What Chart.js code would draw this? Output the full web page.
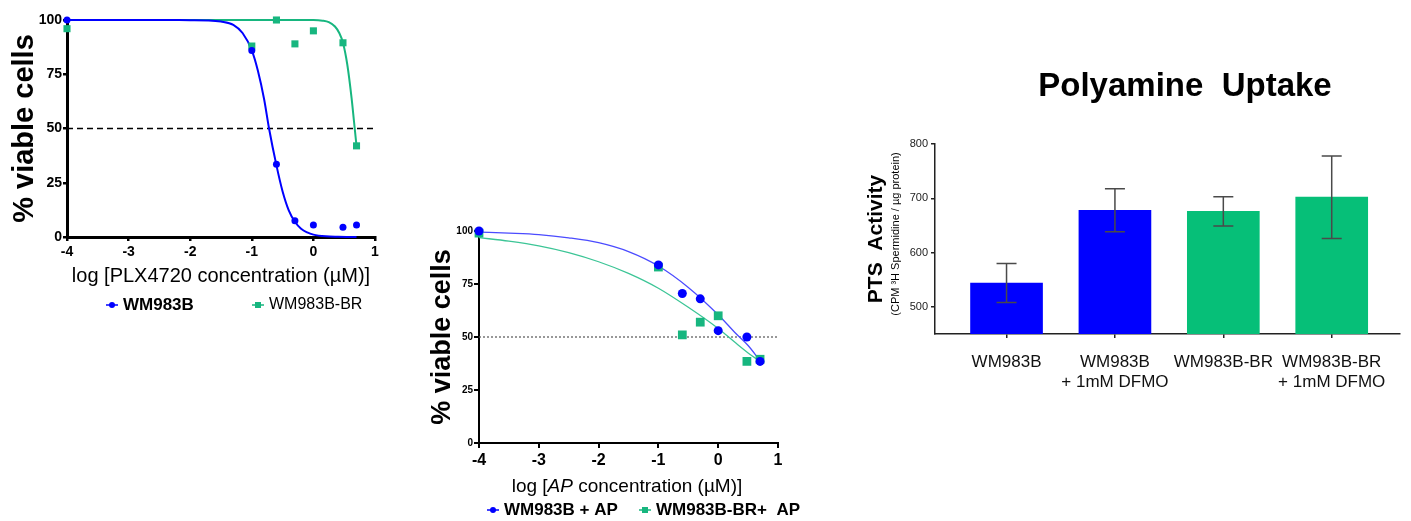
<!DOCTYPE html>
<html>
<head>
<meta charset="utf-8">
<script src="https://cdn.jsdelivr.net/npm/chart.js@4.4.0/dist/chart.umd.min.js"></script>
<style>
  html, body { margin: 0; padding: 0; background: #fff; }
  body { width: 1411px; height: 521px; position: relative; overflow: hidden; }
  canvas { position: absolute; left: 0; top: 0; }
</style>
</head>
<body>
<canvas id="plxChart" width="1411" height="521"></canvas>
<canvas id="apChart" width="1411" height="521"></canvas>
<canvas id="ptsChart" width="1411" height="521"></canvas>
<script>
// log10 concentrations used in both dose-response panels
const logConc = [-4, -1, -0.6, -0.3, 0, 0.48, 0.7];

// panel 1: PLX4720
const plxParental = [100, 86, 33.5, 7.5, 5.5, 4.5, 5.5];
const plxResistant = [96, 88, 100, 89, 95, 89.5, 42];
const plxParentalFitX = [-4, -2.5, -2, -1.7, -1.5, -1.3, -1.15, -1, -0.9, -0.8, -0.72, -0.6, -0.5, -0.4, -0.3, -0.2, -0.1, 0, 0.2, 0.4, 0.7];
const plxParentalFitY = [100, 100, 99.9, 99.8, 99.3, 97.8, 94, 86, 76.5, 63.5, 50, 33, 21, 12.3, 7, 3.8, 2.1, 1.1, 0.3, 0.1, 0];
const plxResistantFitX = [-4, -1, 0, 0.15, 0.25, 0.35, 0.42, 0.48, 0.55, 0.62, 0.66, 0.7];
const plxResistantFitY = [100, 100, 100, 99.7, 99, 97, 94, 89.5, 79.5, 64, 53, 42];

// panel 2: AP
const apParental = [100, 84, 70.5, 68, 53, 50, 38.5];
const apResistant = [99, 83, 51, 57, 60, 38.5, 39.5];
const apFitX = [-4, -3.5, -3, -2.5, -2, -1.5, -1, -0.5, 0, 0.3, 0.5, 0.7];
const apParentalFitY = [99.5, 99, 98.3, 96.8, 94.5, 90.3, 83.5, 73.4, 60.5, 51.5, 46, 38.8];
const apResistantFitY = [96.9, 95.2, 93, 89.8, 85.5, 80, 73, 64, 54, 47, 42.5, 38.5];

const halfLine = [50, 50];
const halfLineX = [-4, 1];
const doseTicksY = [0, 25, 50, 75, 100];

// panel 3: polyamine uptake
const groups = [['WM983B'], ['WM983B', '+ 1mM DFMO'], ['WM983B-BR'], ['WM983B-BR', '+ 1mM DFMO']];
const uptake = [544, 678, 676, 702];
const uptakeErr = [36, 39.5, 27, 76];
const uptakeTicks = [500, 600, 700, 800];

const SANS = "'Liberation Sans', Arial, Helvetica, sans-serif";
Chart.defaults.font.family = SANS;
Chart.defaults.color = '#000';

const BLUE = '#0000ff';
const GREEN = '#17b67f';
const BAR_GREEN = '#06bf78';

const toXY = (xs, ys) => xs.map((x, i) => ({ x: x, y: ys[i] }));

// text with mixed fonts (italic parts, rotated subtitles, panel title)
function textPlugin(items) {
  return {
    id: 'richText',
    afterDraw(chart) {
      const ctx = chart.ctx;
      items.forEach(item => {
        ctx.save();
        ctx.translate(item.x, item.y);
        if (item.rotate) ctx.rotate(item.rotate);
        ctx.textBaseline = 'middle';
        ctx.textAlign = 'left';
        ctx.fillStyle = item.color || '#000';
        const widths = item.parts.map(p => { ctx.font = p.font; return ctx.measureText(p.text).width; });
        let x = -widths.reduce((a, b) => a + b, 0) / 2;
        item.parts.forEach((p, i) => {
          ctx.font = p.font;
          ctx.fillText(p.text, x, 0);
          x += widths[i];
        });
        ctx.restore();
      });
    }
  };
}

// GraphPad-like legend: short line with the dataset's marker, then the label
function markerLegend(items) {
  return {
    id: 'markerLegend',
    afterDraw(chart) {
      const ctx = chart.ctx;
      items.forEach(it => {
        const ds = chart.data.datasets[it.ds];
        ctx.save();
        ctx.strokeStyle = ds.backgroundColor;
        ctx.fillStyle = ds.backgroundColor;
        ctx.lineWidth = 1.5;
        ctx.beginPath();
        ctx.moveTo(it.x - 6, it.y);
        ctx.lineTo(it.x + 6, it.y);
        ctx.stroke();
        if (ds.pointStyle === 'rect') {
          ctx.fillRect(it.x - 3, it.y - 3, 6, 6);
        } else {
          ctx.beginPath();
          ctx.arc(it.x, it.y, 3, 0, Math.PI * 2);
          ctx.fill();
        }
        ctx.fillStyle = '#000';
        ctx.font = it.font;
        ctx.textBaseline = 'middle';
        ctx.fillText(ds.label, it.x + 11, it.y);
        ctx.restore();
      });
    }
  };
}

function errorBars(values, errs) {
  return {
    id: 'errorBars',
    afterDatasetsDraw(chart) {
      const ctx = chart.ctx;
      const y = chart.scales.y;
      chart.getDatasetMeta(0).data.forEach((bar, i) => {
        const top = y.getPixelForValue(values[i] + errs[i]);
        const bot = y.getPixelForValue(values[i] - errs[i]);
        ctx.save();
        ctx.strokeStyle = '#4a4a4a';
        ctx.lineWidth = 1.5;
        ctx.beginPath();
        ctx.moveTo(bar.x, top); ctx.lineTo(bar.x, bot);
        ctx.moveTo(bar.x - 10, top); ctx.lineTo(bar.x + 10, top);
        ctx.moveTo(bar.x - 10, bot); ctx.lineTo(bar.x + 10, bot);
        ctx.stroke();
        ctx.restore();
      });
    }
  };
}

const fixY = (w) => (s) => { s.width = w; s.paddingTop = 0; s.paddingBottom = 0; };
const fixX = (h) => (s) => { s.height = h; s.paddingLeft = 0; s.paddingRight = 0; };
const tickList = (vals) => (s) => { s.ticks = vals.map(v => ({ value: v })); };

// ---------- panel 1 ----------
new Chart(document.getElementById('plxChart'), {
  type: 'scatter',
  data: {
    datasets: [
      { label: 'WM983B', data: toXY(logConc, plxParental), backgroundColor: BLUE, borderColor: BLUE,
        pointStyle: 'circle', pointRadius: 3.5, borderWidth: 0, clip: false },
      { label: 'WM983B-BR', data: toXY(logConc, plxResistant), backgroundColor: GREEN, borderColor: GREEN,
        pointStyle: 'rect', pointRadius: 5, borderWidth: 0, clip: false },
      { data: toXY(plxParentalFitX, plxParentalFitY), showLine: true, pointRadius: 0, borderColor: BLUE,
        borderWidth: 2, cubicInterpolationMode: 'monotone', clip: false },
      { data: toXY(plxResistantFitX, plxResistantFitY), showLine: true, pointRadius: 0, borderColor: GREEN,
        borderWidth: 2, cubicInterpolationMode: 'monotone', clip: false },
      { data: toXY(halfLineX, halfLine), showLine: true, pointRadius: 0, borderColor: '#000',
        borderWidth: 1.5, borderDash: [6, 4] }
    ]
  },
  options: {
    responsive: false, animation: false,
    layout: { padding: { left: 0, right: 1036, top: 20, bottom: 232 } },
    plugins: { legend: { display: false }, tooltip: { enabled: false } },
    scales: {
      x: {
        type: 'linear', min: -4, max: 1,
        ticks: { stepSize: 1, font: { size: 14, weight: 'bold' }, padding: 3, color: '#000' },
        grid: { drawOnChartArea: false, tickLength: 4, color: '#000', lineWidth: 2.5 },
        border: { color: '#000', width: 3 },
        title: { display: true, text: 'log [PLX4720 concentration (µM)]', font: { size: 20 }, padding: { top: 0, bottom: 1 } },
        afterFit: fixX(52)
      },
      y: {
        min: 0, max: 100,
        afterBuildTicks: tickList(doseTicksY),
        ticks: { font: { size: 14, weight: 'bold' }, padding: 1, color: '#000' },
        grid: { drawOnChartArea: false, tickLength: 4, color: '#000', lineWidth: 2.5 },
        border: { color: '#000', width: 3 },
        title: { display: true, text: '% viable cells', font: { size: 29, weight: 'bold' }, padding: { top: 8, bottom: 0 } },
        afterFit: fixY(67)
      }
    }
  },
  plugins: [markerLegend([
    { ds: 0, x: 112, y: 305, font: 'bold 17px ' + SANS },
    { ds: 1, x: 258, y: 305, font: '16px ' + SANS }
  ])]
});

// ---------- panel 2 ----------
new Chart(document.getElementById('apChart'), {
  type: 'scatter',
  data: {
    datasets: [
      { label: 'WM983B + AP', data: toXY(logConc, apParental), backgroundColor: BLUE, borderColor: BLUE,
        pointStyle: 'circle', pointRadius: 4.5, borderWidth: 0, clip: false },
      { label: 'WM983B-BR+  AP', data: toXY(logConc, apResistant), backgroundColor: GREEN, borderColor: GREEN,
        pointStyle: 'rect', pointRadius: 6.2, borderWidth: 0, clip: false },
      { data: toXY(apFitX, apParentalFitY), showLine: true, pointRadius: 0, borderColor: '#4b4bff',
        borderWidth: 1.3, cubicInterpolationMode: 'monotone', clip: false },
      { data: toXY(apFitX, apResistantFitY), showLine: true, pointRadius: 0, borderColor: '#3cc596',
        borderWidth: 1.3, cubicInterpolationMode: 'monotone', clip: false },
      { data: toXY(halfLineX, halfLine), showLine: true, pointRadius: 0, borderColor: '#555',
        borderWidth: 1.2, borderDash: [2, 2] }
    ]
  },
  options: {
    responsive: false, animation: false,
    layout: { padding: { left: 420, right: 633, top: 231, bottom: 38 } },
    plugins: { legend: { display: false }, tooltip: { enabled: false } },
    scales: {
      x: {
        type: 'linear', min: -4, max: 1,
        ticks: { stepSize: 1, font: { size: 16, weight: 'bold' }, padding: 3, color: '#000' },
        grid: { drawOnChartArea: false, tickLength: 5, color: '#000', lineWidth: 2 },
        border: { color: '#000', width: 2 },
        afterFit: fixX(40)
      },
      y: {
        min: 0, max: 100,
        afterBuildTicks: tickList(doseTicksY),
        ticks: { font: { size: 10, weight: 'bold' }, padding: 1, color: '#000' },
        grid: { drawOnChartArea: false, tickLength: 5, color: '#000', lineWidth: 2 },
        border: { color: '#000', width: 2 },
        title: { display: true, text: '% viable cells', font: { size: 27, weight: 'bold' }, padding: { top: 6, bottom: 0 } },
        afterFit: fixY(59)
      }
    }
  },
  plugins: [
    textPlugin([
      { x: 627, y: 487, parts: [
        { text: 'log [', font: '19px ' + SANS },
        { text: 'AP', font: 'italic 19px ' + SANS },
        { text: ' concentration (µM)]', font: '19px ' + SANS }
      ] }
    ]),
    markerLegend([
      { ds: 0, x: 493, y: 510, font: 'bold 17px ' + SANS },
      { ds: 1, x: 645, y: 510, font: 'bold 17px ' + SANS }
    ])
  ]
});

// ---------- panel 3 ----------
new Chart(document.getElementById('ptsChart'), {
  type: 'bar',
  data: {
    datasets: [{
      data: groups.map((g, i) => ({ x: i, y: uptake[i] })),
      backgroundColor: [BLUE, BLUE, BAR_GREEN, BAR_GREEN],
      barThickness: 72,
      borderWidth: 0
    }]
  },
  options: {
    responsive: false, animation: false,
    layout: { padding: { left: 860, right: 11, top: 144, bottom: 127 } },
    plugins: { legend: { display: false }, tooltip: { enabled: false } },
    scales: {
      x: {
        type: 'linear', min: -0.66, max: 3.63, offset: false,
        afterBuildTicks: tickList(groups.map((g, i) => i)),
        ticks: { callback: (v, i) => groups[i], font: { size: 17, lineHeight: 20 / 17 }, padding: 14,
          maxRotation: 0, autoSkip: false, color: '#111' },
        grid: { offset: false, drawOnChartArea: false, tickLength: 4, color: '#222', lineWidth: 1.5 },
        border: { color: '#222', width: 1.5 },
        afterFit: fixX(60)
      },
      y: {
        min: 450, max: 800,
        afterBuildTicks: tickList(uptakeTicks),
        ticks: { font: { size: 11 }, padding: 3, color: '#222' },
        grid: { drawOnChartArea: false, tickLength: 4, color: '#222', lineWidth: 1.5 },
        border: { color: '#222', width: 1.5 },
        title: { display: true, text: 'PTS  Activity', font: { size: 21, weight: 'bold' }, padding: { top: 4, bottom: 0 } },
        afterFit: fixY(75)
      }
    }
  },
  plugins: [
    errorBars(uptake, uptakeErr),
    textPlugin([
      { x: 1185, y: 87, parts: [{ text: 'Polyamine  Uptake', font: 'bold 33px ' + SANS }] },
      { x: 896, y: 234, rotate: -Math.PI / 2, parts: [{ text: '(CPM ³H Spermidine / µg protein)', font: '11px ' + SANS }] }
    ])
  ]
});
</script>
</body>
</html>
